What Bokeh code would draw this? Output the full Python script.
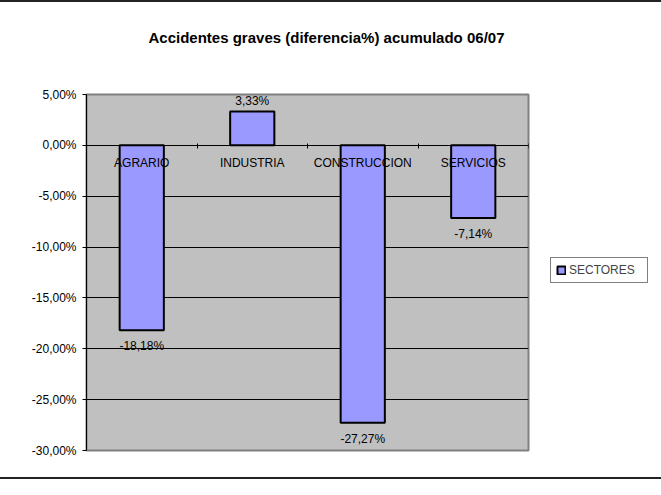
import numpy as np
from bokeh.plotting import figure
from bokeh.models import Range1d, FixedTicker, Legend, LegendItem, ColumnDataSource, Title
from bokeh.embed import file_html
from bokeh.resources import INLINE
from bokeh.core.properties import value

title_text = "Accidentes graves (diferencia%) acumulado 06/07"
categories = ["AGRARIO", "INDUSTRIA", "CONSTRUCCION", "SERVICIOS"]
values = [-18.18, 3.33, -27.27, -7.14]
series_name = "SECTORES"
y_ticks = [5, 0, -5, -10, -15, -20, -25, -30]
y_tick_labels = ["5,00%", "0,00%", "-5,00%", "-10,00%", "-15,00%", "-20,00%", "-25,00%", "-30,00%"]

FONT = "Liberation Sans"
W, H = 645, 475
LEFT, TOP, FW, FH = 86, 92, 442, 356

n = len(categories)
xc = np.arange(n) + 0.5
vals = np.array(values)
labels = [f"{v:.2f}".replace(".", ",") + "%" for v in values]
offs = np.where(vals >= 0, -10, 16)

src = ColumnDataSource(dict(x=xc, top=vals, label=labels, off=offs))

p = figure(frame_width=FW, frame_height=FH, output_backend="svg", toolbar_location=None,
           x_range=Range1d(0, n), y_range=Range1d(min(y_ticks), max(y_ticks)),
           min_border_left=LEFT, min_border_right=W - LEFT - FW,
           min_border_top=TOP, min_border_bottom=H - TOP - FH,
           background_fill_color="#C0C0C0", border_fill_color="white",
           outline_line_color="#808080", outline_line_width=2,
           styles={"border-top": "2px solid #222", "border-bottom": "2px solid #222"})

p.title.text = title_text
p.title.align = "left"
p.title.offset = 62
p.title.vertical_align = "bottom"
p.title.standoff = 26
p.title.text_font = FONT
p.title.text_font_style = "bold"
p.title.text_font_size = "15px"
p.title.text_color = "black"

spacer = Title(text=" ", text_font_size="12px", standoff=20)
p.add_layout(spacer, "above")

bars = p.vbar(x="x", top="top", bottom=0, width=0.4, source=src,
              fill_color="#9999FF", line_color="black", line_width=2)

p.text(x="x", y="top", text="label", y_offset="off", source=src,
       text_align="center", text_baseline="middle", text_font=value(FONT),
       text_font_size="12px", text_color="black")

p.xgrid.visible = False
p.ygrid.ticker = FixedTicker(ticks=y_ticks)
p.ygrid.grid_line_color = "black"
p.ygrid.grid_line_width = 1

ya = p.yaxis[0]
ya.ticker = FixedTicker(ticks=y_ticks, minor_ticks=[])
ya.major_label_overrides = dict(zip(y_ticks, y_tick_labels))
ya.major_tick_out = 4
ya.major_tick_in = 0
ya.minor_tick_line_color = None
ya.axis_line_color = "black"
ya.major_tick_line_color = "black"
ya.major_label_standoff = 6
ya.major_label_text_font = FONT
ya.major_label_text_font_size = "12px"
ya.major_label_text_color = "black"

xa = p.xaxis[0]
xa.fixed_location = 0
xa.ticker = FixedTicker(ticks=list(xc), minor_ticks=list(range(n + 1)))
xa.major_label_overrides = {float(x): c for x, c in zip(xc, categories)}
xa.major_tick_line_color = None
xa.minor_tick_in = 2
xa.minor_tick_out = 3
xa.minor_tick_line_color = "black"
xa.axis_line_color = "black"
xa.major_label_standoff = 5
xa.major_label_text_font = FONT
xa.major_label_text_font_size = "12px"
xa.major_label_text_color = "black"

legend = Legend(items=[LegendItem(label=series_name, renderers=[bars])],
                location=(22, 167), margin=0, padding=5,
                glyph_width=10, glyph_height=10, label_standoff=3,
                label_height=13, label_width=73,
                label_text_font=FONT, label_text_font_size="12px",
                border_line_color="black", border_line_width=1,
                background_fill_color="white", background_fill_alpha=1)
p.add_layout(legend, "right")

open("out.html", "w").write(file_html(p, INLINE))
